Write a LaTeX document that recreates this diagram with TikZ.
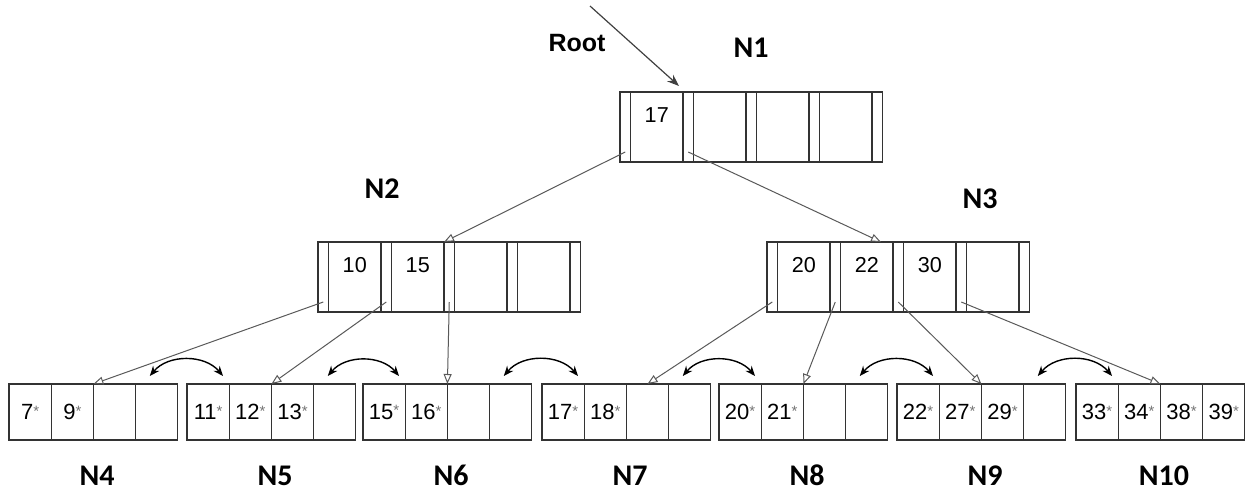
\documentclass[tikz,border=0pt]{standalone}
\usepackage{fontspec}
\setmainfont{Liberation Sans}
\newfontfamily\calfont{Carlito}
\usetikzlibrary{positioning, arrows.meta, calc}
\newcommand{\st}{\raisebox{0.3ex}{\fontsize{7.5}{7.5}\selectfont\color{black!55}*}}

\begin{document}
\begin{tikzpicture}[
  x=0.5pt, y=-0.5pt,
  ptr/.style={draw=black!80, line width=0.6pt, minimum width=5.25pt,
              minimum height=35pt, inner sep=0pt, outer sep=0pt},
  key/.style={draw=black!80, line width=0.6pt, minimum width=26.25pt,
              minimum height=35pt, inner sep=0pt, outer sep=0pt,
              font=\fontsize{10.8}{12}\selectfont, text height=7.7pt, text depth=12pt},
  cell/.style={draw=black!80, line width=0.6pt, minimum width=21.1pt,
               minimum height=28pt, inner sep=0pt, outer sep=0pt,
               font=\fontsize{11}{12}\selectfont},
  nlabel/.style={font=\calfont\bfseries\fontsize{15}{17}\selectfont, inner sep=0pt},
  rootlab/.style={font=\bfseries\fontsize{12.5}{14}\selectfont, inner sep=0pt},
  ptrarr/.style={-{Triangle[open, length=5pt, width=4pt]}, draw=black!65, line width=0.5pt},
  rootarr/.style={-{Stealth[length=6pt, width=4.5pt]}, draw=black!75, line width=0.6pt},
  sib/.style={{Stealth[length=5pt, width=4pt]}-{Stealth[length=5pt, width=4pt]}, line width=0.7pt}
]
\useasboundingbox (0,0) rectangle (1251,493);

% inner nodes
\node[ptr, anchor=north west] (n1p0) at (620,92) {};
\foreach \i/\v [remember=\i as \j (initially 0)] in {1/17,2/{},3/{},4/{}} {
  \node[key, right=0pt of n1p\j] (n1k\i) {\v};
  \node[ptr, right=0pt of n1k\i] (n1p\i) {};
}
\node[ptr, anchor=north west] (n2p0) at (318,242) {};
\foreach \i/\v [remember=\i as \j (initially 0)] in {1/10,2/15,3/{},4/{}} {
  \node[key, right=0pt of n2p\j] (n2k\i) {\v};
  \node[ptr, right=0pt of n2k\i] (n2p\i) {};
}
\node[ptr, anchor=north west] (n3p0) at (767,242) {};
\foreach \i/\v [remember=\i as \j (initially 0)] in {1/20,2/22,3/30,4/{}} {
  \node[key, right=0pt of n3p\j] (n3k\i) {\v};
  \node[ptr, right=0pt of n3k\i] (n3p\i) {};
}

\node[nlabel, anchor=base] (lab1) at (751,57) {N1};
\node[nlabel, anchor=base] (lab2) at (382,198) {N2};
\node[nlabel, anchor=base] (lab3) at (980,208) {N3};
\node[rootlab, anchor=base] (root) at (577,51) {Root};

% leaves
\foreach \n/\x/\a/\b/\c/\d in {4/9/7\st/9\st/{}/{}, 5/187/11\st/12\st/13\st/{},
    6/363/15\st/16\st/{}/{}, 7/542/17\st/18\st/{}/{}, 8/719/20\st/21\st/{}/{},
    9/897/22\st/27\st/29\st/{}, 10/1076/33\st/34\st/38\st/39\st} {
  \node[cell, anchor=north west] (n\n-1) at (\x,384) {\a};
  \node[cell, right=0pt of n\n-1] (n\n-2) {\b};
  \node[cell, right=0pt of n\n-2] (n\n-3) {\c};
  \node[cell, right=0pt of n\n-3] (n\n-4) {\d};
  \node[nlabel, anchor=base] (lab\n) at ({\x+88},485) {N\n};
}

\coordinate (rootin) at (590,6);
\draw[rootarr] (rootin) -- ([xshift=-2pt, yshift=3pt]n1k1.north east);

\draw[ptrarr] ([yshift=5pt]n1p0.south) -- (n2k2.north east);
\draw[ptrarr] ([yshift=5pt]n1p1.south) -- ([xshift=-6pt]n3k2.north east);
\foreach \p/\t in {n2p0/n4-2.north east, n2p1/n5-2.north east, n2p2/n6-2.north east,
    n3p0/n7-3.north, n3p1/n8-2.north east, n3p2/n9-2.north east, n3p3/n10-2.north east}
  \draw[ptrarr] ([yshift=5pt]\p.south) -- (\t);

\foreach \i/\j in {4/5,5/6,6/7,7/8,8/9,9/10}
  \draw[sib] ([xshift=-14pt, yshift=4pt]n\i-4.north east) to[bend left=50]
             ([xshift=18pt, yshift=4pt]n\j-1.north west);
\end{tikzpicture}
\end{document}
